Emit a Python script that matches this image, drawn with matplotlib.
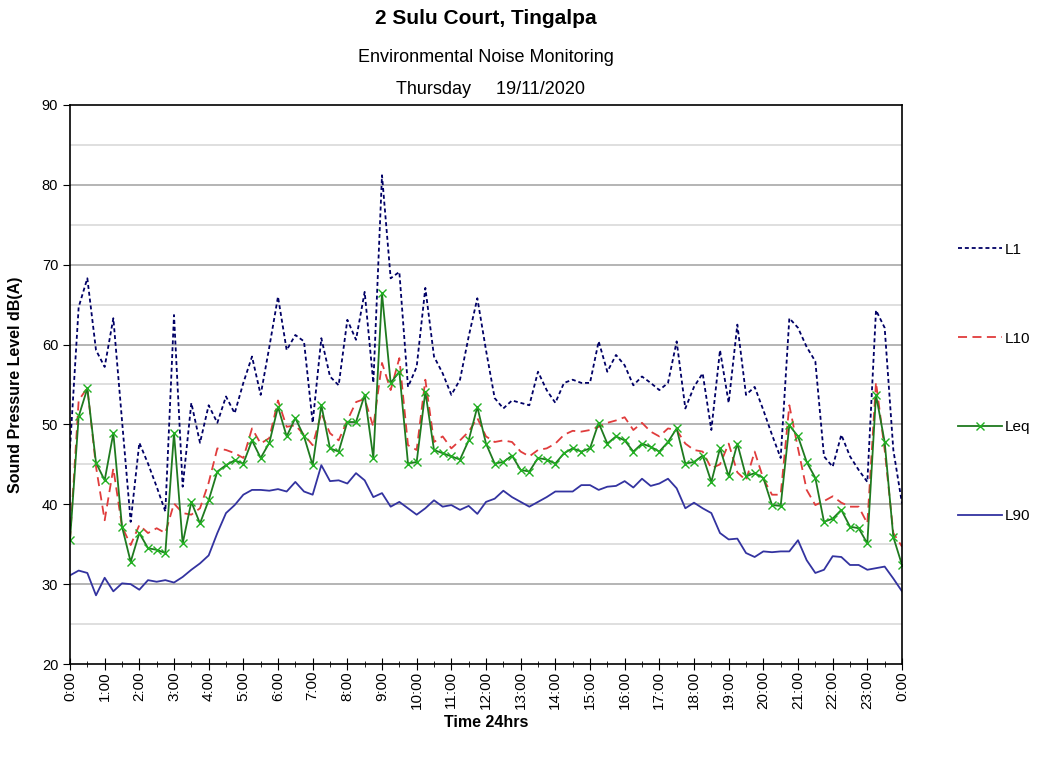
import numpy as np
import pandas as pd
import matplotlib
matplotlib.use("Agg")
import matplotlib.pyplot as plt
import matplotlib.dates as mdates
from matplotlib.ticker import MultipleLocator

plt.rcParams['font.family'] = ['Liberation Sans', 'DejaVu Sans']

# 15 minute intervals over the day (97 readings incl. midnight at both ends)
times = pd.date_range("2020-11-19 00:00", periods=97, freq="15min")

l1 = [47.0, 64.7, 68.3, 59.3, 57.2, 63.3, 50.5, 37.8, 47.7, 45.1, 42.2, 39.1, 63.7, 42.2, 52.7, 47.7, 52.4, 50.2, 53.5, 51.4,
      55.2, 58.5, 53.7, 59.7, 66.0, 59.3, 61.2, 60.4, 50.2, 60.8, 56.0, 54.9, 63.1, 60.6, 66.6, 55.2, 81.2, 68.3, 69.1,
      54.7, 57.2, 67.1, 58.5, 56.4, 53.7, 55.6, 61.0, 65.8, 59.3, 53.3, 52.0, 53.0, 52.7, 52.4, 56.6, 54.3, 52.7, 55.2, 55.6,
      55.2, 55.2, 60.4, 56.6, 58.7, 57.4, 54.9, 56.0, 55.2, 54.3, 55.2, 60.4, 52.0, 54.7, 56.4, 49.3, 59.3, 52.7, 62.5,
      53.7, 54.7, 51.8, 48.7, 45.8, 63.3, 62.1, 59.7, 57.9, 46.0, 44.7, 48.7, 46.0, 44.3, 42.8, 64.3, 62.1, 46.8, 40.1]

l10 = [35.5, 53.0, 54.6, 44.7, 38.0, 44.5, 37.2, 34.9, 37.4, 36.4, 37.0, 36.4, 40.1, 38.9, 38.7, 39.5, 42.7, 47.0, 46.8, 46.4,
       45.8, 49.5, 47.6, 48.3, 53.0, 49.7, 49.9, 48.7, 47.4, 51.4, 48.9, 48.0, 50.5, 52.8, 53.2, 49.7, 57.7, 54.3, 58.3,
       47.4, 46.8, 55.6, 47.8, 48.5, 47.0, 48.0, 49.1, 50.8, 48.5, 47.8, 48.0, 47.8, 46.6, 46.0, 46.8, 47.0, 47.6, 48.7, 49.2,
       49.1, 49.3, 49.7, 50.2, 50.5, 50.9, 49.3, 50.2, 49.1, 48.5, 49.5, 49.3, 47.6, 46.8, 46.6, 44.5, 45.0, 47.6, 44.0,
       43.0, 46.6, 43.2, 41.2, 41.2, 52.4, 47.0, 41.8, 39.9, 40.4, 41.0, 40.2, 39.7, 39.7, 37.6, 55.3, 46.8, 36.4, 34.7]

leq = [35.5, 51.0, 54.5, 45.2, 43.0, 48.9, 37.2, 32.8, 36.4, 34.5, 34.3, 33.9, 48.9, 35.1, 40.3, 37.6, 40.5, 44.1, 44.9, 45.5,
       45.1, 48.0, 45.8, 47.7, 52.2, 48.5, 50.8, 48.5, 44.9, 52.4, 47.0, 46.6, 50.3, 50.3, 53.7, 45.8, 66.4, 55.2, 56.6,
       45.1, 45.3, 54.1, 46.8, 46.4, 46.0, 45.6, 48.0, 52.2, 47.6, 45.1, 45.3, 46.1, 44.3, 44.1, 45.8, 45.6, 45.1, 46.4, 47.0,
       46.6, 47.0, 50.2, 47.6, 48.5, 48.0, 46.6, 47.6, 47.2, 46.6, 47.8, 49.5, 45.1, 45.3, 46.1, 42.8, 47.0, 43.5, 47.6,
       43.5, 43.9, 43.3, 39.9, 39.8, 49.9, 48.5, 45.3, 43.3, 37.8, 38.2, 39.3, 37.2, 37.0, 35.1, 53.7, 47.8, 35.9, 32.4]

l90 = [31.1, 31.7, 31.4, 28.6, 30.8, 29.1, 30.1, 30.0, 29.3, 30.5, 30.3, 30.5, 30.2, 30.9, 31.8, 32.6, 33.6, 36.4, 38.9, 39.9,
       41.2, 41.8, 41.8, 41.7, 41.9, 41.6, 42.8, 41.6, 41.2, 44.9, 42.9, 43.0, 42.6, 43.9, 43.0, 40.9, 41.4, 39.7, 40.3,
       39.5, 38.7, 39.5, 40.5, 39.7, 39.9, 39.3, 39.8, 38.8, 40.3, 40.7, 41.7, 40.9, 40.3, 39.7, 40.3, 40.9, 41.6, 41.6, 41.6,
       42.4, 42.4, 41.8, 42.2, 42.3, 42.9, 42.1, 43.2, 42.3, 42.6, 43.2, 42.0, 39.5, 40.2, 39.5, 38.9, 36.4, 35.6, 35.7,
       33.9, 33.4, 34.1, 34.0, 34.1, 34.1, 35.5, 33.0, 31.4, 31.8, 33.5, 33.4, 32.4, 32.4, 31.8, 32.0, 32.2, 30.7, 29.1]

fig = plt.figure(figsize=(10.4, 7.58), dpi=100)
ax = fig.add_axes([70 / 1040, 1 - 664 / 758, 832 / 1040, 559 / 758])

# grid: darker every 10 dB, lighter at the 5s
for v in range(25, 90, 5):
    ax.axhline(v, color="#a8a8a8" if v % 10 == 0 else "#d9d9d9", lw=1.2, zorder=0)

ax.plot(times, l1, color="#000066", lw=1.3, ls=(0, (2.2, 1.6)), label="L1")
ax.plot(times, l10, color="#e03c3c", lw=1.3, ls=(0, (5, 3)), label="L10")
ax.plot(times, leq, color="#1f7a1f", lw=1.3, marker="x", ms=5.5, mew=1,
        mec="#22b022", label="Leq")
ax.plot(times, l90, color="#3333a0", lw=1.3, label="L90")

ax.set_ylim(20, 90)
ax.set_xlim(times[0], times[-1])
ax.yaxis.set_major_locator(MultipleLocator(10))
ax.xaxis.set_major_locator(mdates.HourLocator())
ax.xaxis.set_minor_locator(mdates.MinuteLocator(byminute=[30]))
ax.xaxis.set_major_formatter(mdates.DateFormatter("%-H:%M"))
ax.tick_params(axis="x", which="major", direction="inout", length=8, labelsize=11,
               labelrotation=90, pad=1)
ax.tick_params(axis="x", which="minor", direction="inout", length=5)
ax.tick_params(axis="y", direction="out", length=5, labelsize=10.5)
for s in ax.spines.values():
    s.set_linewidth(1.2)

ax.set_ylabel("Sound Pressure Level dB(A)", fontsize=11.5, fontweight="bold")
ax.yaxis.set_label_coords(-0.057, 0.5)
ax.set_xlabel("Time 24hrs", fontsize=11.5, fontweight="bold")
ax.xaxis.set_label_coords(0.5, -0.092)

fig.text(486 / 1040, 1 - 18 / 758, "2 Sulu Court, Tingalpa", ha="center", va="center",
         fontsize=15, fontweight="bold")
fig.text(486 / 1040, 1 - 57 / 758, "Environmental Noise Monitoring", ha="center",
         va="center", fontsize=13)
fig.text(490 / 1040, 1 - 90 / 758, "Thursday     19/11/2020", ha="center", va="center",
         fontsize=13)

ax.legend(loc="center left", bbox_to_anchor=(958 / 1040, 1 - 383 / 758),
          bbox_transform=fig.transFigure, frameon=False, fontsize=11,
          handlelength=2.9, handletextpad=0.15, labelspacing=4.9, numpoints=1,
          borderpad=0, borderaxespad=0)

fig.savefig("out.png", dpi=100)
